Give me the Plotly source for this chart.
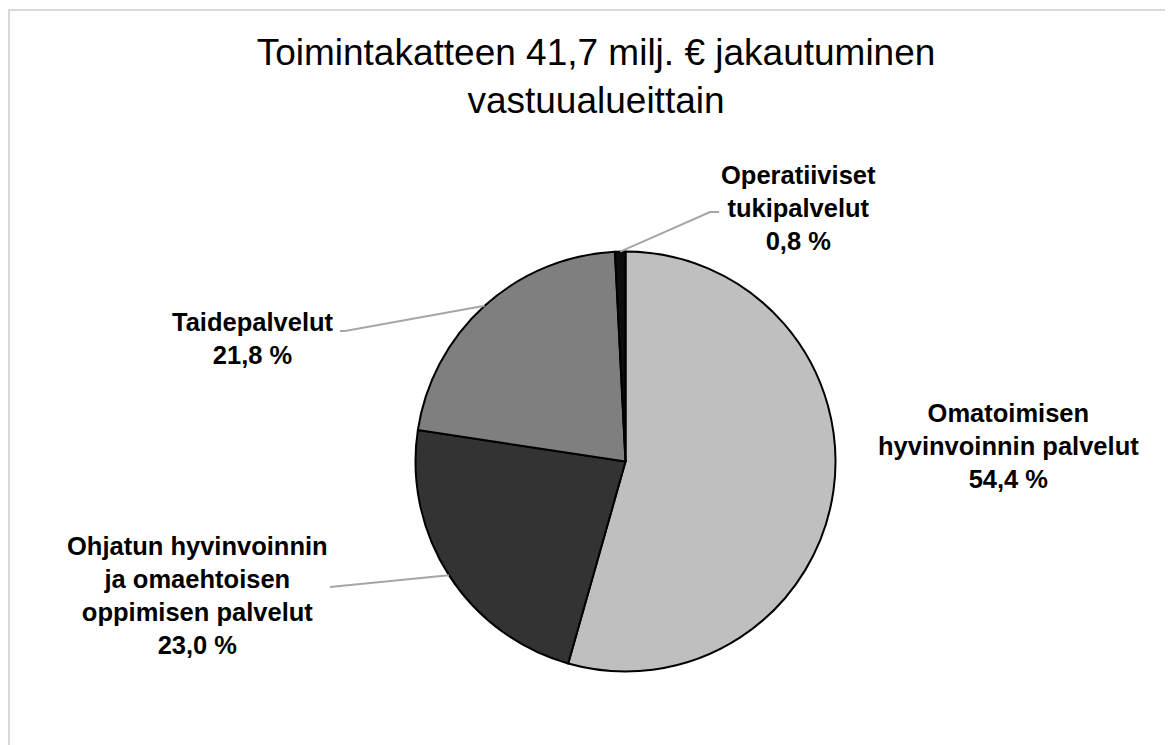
import math
import plotly.graph_objects as go

# shares of the operating margin, clockwise from 12 o'clock
labels = ["Omatoimisen hyvinvoinnin palvelut",
          "Ohjatun hyvinvoinnin ja omaehtoisen oppimisen palvelut",
          "Taidepalvelut",
          "Operatiiviset tukipalvelut"]
shares = [54.4, 23.0, 21.8, 0.8]
colors = ["#bfbfbf", "#333333", "#7f7f7f", "#0d0d0d"]

# label text as it is broken in the chart
label_lines = [["Omatoimisen", "hyvinvoinnin palvelut"],
               ["Ohjatun hyvinvoinnin", "ja omaehtoisen", "oppimisen palvelut"],
               ["Taidepalvelut"],
               ["Operatiiviset", "tukipalvelut"]]

W, H = 1173, 745
OFF = 8                                 # page body margin around the plot div
CX, CY, R = 625.5, 461.5, 210           # pie centre / radius in page pixels

# label centre (page pixels) and leader-line elbow (None = no leader)
label_pos = [(1008, 446), (197, 595), (253, 338), (798, 208)]
elbows = [None, [(330, 587)], [(345, 331), (340, 331)], [(710, 212), (719, 212)]]


def px(x):
    return (x - OFF) / W


def py(y):
    return 1 - (y - OFF) / H


def fmt(v):
    return f"{v:.1f}".replace(".", ",") + " %"


fig = go.Figure(go.Pie(
    labels=labels, values=shares, sort=False, direction="clockwise", rotation=0,
    marker=dict(colors=colors, line=dict(color="#000000", width=2)),
    textinfo="none", hoverinfo="label+percent", showlegend=False,
    domain=dict(x=[px(CX - R), px(CX + R)], y=[py(CY + R), py(CY - R)]),
))

font_lbl = dict(family="Liberation Sans, Arial, sans-serif", size=25.5, color="#000000")

total = sum(shares)
start = 0.0
for i, v in enumerate(shares):
    mid = start + v / total * 360 / 2
    start += v / total * 360
    text = "<b>" + "<br>".join(label_lines[i] + [fmt(v)]) + "</b>"
    lx, ly = label_pos[i]
    fig.add_annotation(x=px(lx), y=py(ly), xref="paper", yref="paper", text=text,
                       showarrow=False, align="center", xanchor="center", yanchor="middle",
                       font=font_lbl)
    if elbows[i]:
        a = math.radians(mid)
        pts = [(CX + R * math.sin(a), CY - R * math.cos(a))] + elbows[i]
        path = "M " + " L ".join(f"{px(x)},{py(y)}" for x, y in pts)
        fig.add_shape(type="path", path=path, xref="paper", yref="paper",
                      line=dict(color="#a6a6a6", width=2))

# chart frame (runs off the right and bottom edges)
fig.add_shape(type="rect", xref="paper", yref="paper", x0=px(9), x1=1.05, y0=-0.05, y1=py(10),
              line=dict(color="#d9d9d9", width=2), layer="below")

fig.update_layout(
    width=W, height=H,
    margin=dict(l=0, r=0, t=0, b=0),
    paper_bgcolor="#ffffff", plot_bgcolor="#ffffff",
    title=dict(text="Toimintakatteen 41,7 milj. € jakautuminen<br>vastuualueittain",
               x=px(596), xanchor="center", y=py(65), yanchor="middle",
               font=dict(family="Liberation Sans, Arial, sans-serif", size=37, color="#000000")),
)

fig.write_html("out.html")
